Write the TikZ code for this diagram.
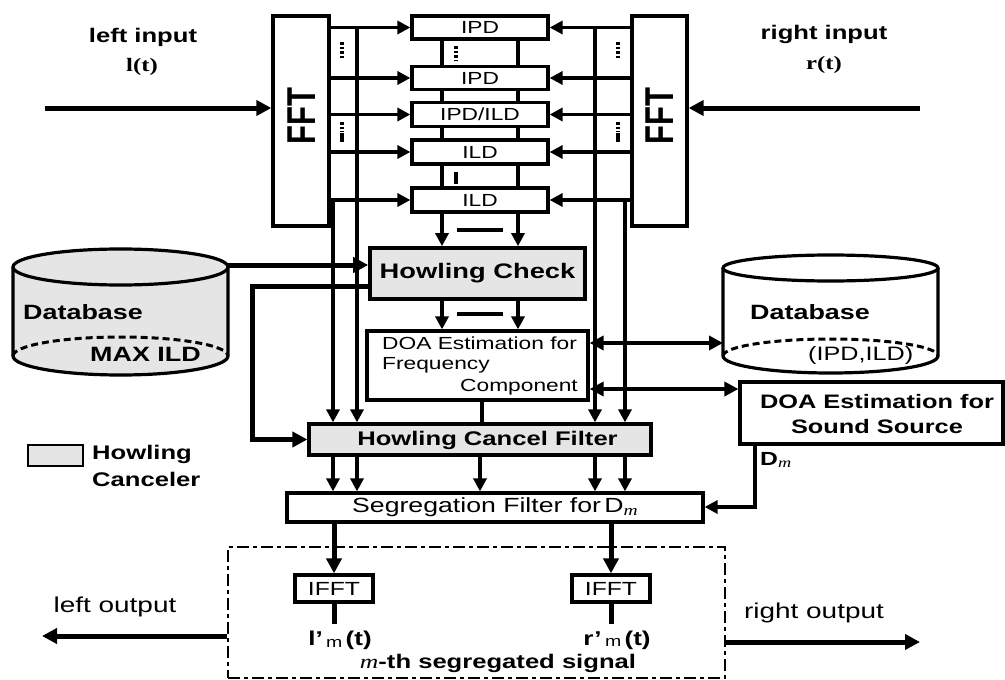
\documentclass[tikz,border=0pt]{standalone}
\usepackage{fontspec}
\setmainfont{Liberation Sans}[FakeStretch=1.3]
\newfontfamily\serifw{Liberation Serif}[FakeStretch=1.3]
\newfontfamily\plainsans{Liberation Sans}
\usetikzlibrary{arrows.meta,calc}
\newcommand\fs[1]{\fontsize{#1}{#1}\selectfont}
\begin{document}
\begin{tikzpicture}[x=1pt,y=-1pt,
  ln/.style={line width=3.2pt},
  tk/.style={line width=5pt},
  md/.style={line width=4pt},
  ar/.style={-{Triangle[length=13pt,width=13pt]}},
  bar/.style={-{Triangle[length=15pt,width=15pt]}},
  dbl/.style={{Triangle[length=14pt,width=14pt]}-{Triangle[length=14pt,width=14pt]}},
  box/.style={draw,line width=3.2pt,rectangle,inner sep=0pt},
  gbox/.style={box,fill=gray!20},
  dots/.style={line width=4pt,dash pattern=on 2.6pt off 2pt},
  dsh/.style={line width=3pt,dash pattern=on 7pt off 4pt},
  txt/.style={inner sep=0pt}]
\useasboundingbox (0,0) rectangle (1005,680);

% FFT boxes
\node[box,minimum width=56pt,minimum height=210pt] (fftL) at (301,121) {};
\node[box,minimum width=55pt,minimum height=210pt] (fftR) at (659.5,121) {};
\node[txt,rotate=90] (fftLt) at (302,116) {\scalebox{1}[1.3]{\fs{31}\plainsans\bfseries FFT}};
\node[txt,rotate=90] (fftRt) at (660,116) {\scalebox{1}[1.3]{\fs{31}\plainsans\bfseries FFT}};

% centre boxes
\node[box,minimum width=136pt,minimum height=23pt,font=\fs{17.5}] (b1) at (480,27.5) {IPD};
\node[box,minimum width=136pt,minimum height=23pt,font=\fs{17.5}] (b2) at (480,78) {IPD};
\node[box,minimum width=136pt,minimum height=24pt,font=\fs{17.5}] (b3) at (480,114.5) {IPD/ILD};
\node[box,minimum width=136pt,minimum height=24pt,font=\fs{17.5}] (b4) at (480,152) {ILD};
\node[box,minimum width=136pt,minimum height=24pt,font=\fs{17.5}] (b5) at (480,200) {ILD};

% main boxes
\node[gbox,line width=3.6pt,minimum width=215pt,minimum height=51pt,font=\fs{21}\bfseries] (hc) at (477.5,273.5) {Howling Check};
\node[box,minimum width=221pt,minimum height=69pt] (dfreq) at (477.5,365.5) {};
\node[txt,anchor=west,font=\fs{17.5}] (df1) at (382,343) {DOA Estimation for};
\node[txt,anchor=west,font=\fs{17.5}] (df2) at (382,365) {Frequency};
\node[txt,anchor=east,font=\fs{17.5}] (df3) at (578,387) {Component};
\node[gbox,minimum width=342pt,minimum height=31pt] (hcf) at (480,439.5) {};
\node[txt,font=\fs{19.7}\bfseries] (hcft) at (487.5,440) {Howling Cancel Filter};
\node[box,minimum width=416pt,minimum height=29pt,font=\fs{20.5}] (seg) at (495,507.5) {Segregation Filter for\,D\raisebox{-3pt}{\fs{15}\serifw\itshape m}};
\node[box,minimum width=263pt,minimum height=62pt] (dss) at (871.5,413) {};
\node[txt,align=center,font=\fontsize{19.5}{25}\selectfont\bfseries] (dsst) at (877,414) {DOA Estimation for\\Sound Source};

% IFFT and output box
\node[box,line width=2.8pt,dash pattern=on 12pt off 4pt on 4pt off 4pt,minimum width=497pt,minimum height=131pt] (sig) at (476.5,612.5) {};
\node[box,minimum width=78pt,minimum height=27pt,font=\fs{19}] (ifL) at (334,588.5) {IFFT};
\node[box,minimum width=78pt,minimum height=27pt,font=\fs{19}] (ifR) at (611,588.5) {IFFT};
\node[txt,font=\fs{20}\bfseries] (lbL) at (340,640) {l’\,\raisebox{-2pt}{\fs{15}\mdseries m}\,(t)};
\node[txt,font=\fs{20}\bfseries] (lbR) at (617,640) {r’\,\raisebox{-1pt}{\fs{15}\mdseries m}\,(t)};
\node[txt,font=\fs{19.7}\bfseries] (sigt) at (498,663) {{\serifw\itshape\mdseries m}-th segregated signal};

% input / output labels
\node[txt,font=\fs{19.7}\bfseries] (lin) at (143,37) {left input};
\node[txt,font=\fs{19}\serifw\bfseries] (lint) at (142,67) {l(t)};
\node[txt,font=\fs{19.7}\bfseries] (rin) at (824,34) {right input};
\node[txt,font=\fs{19}\serifw\bfseries] (rint) at (824,65) {r(t)};
\node[txt,font=\fs{21.5}] (lout) at (115,607) {left output};
\node[txt,font=\fs{21.5}] (rout) at (814,613) {right output};

% databases
\fill[gray!20] (13,267) -- (13,356) arc[start angle=180,end angle=360,x radius=107.5pt,y radius=19pt] -- (228,267) arc[start angle=0,end angle=180,x radius=107.5pt,y radius=18pt] -- cycle;
\draw[ln] (120.5,267) ellipse[x radius=107.5pt,y radius=18pt];
\draw[ln] (13,267) -- (13,356) arc[start angle=180,end angle=360,x radius=107.5pt,y radius=19pt] -- (228,267);
\draw[dsh] (13,356) arc[start angle=180,end angle=0,x radius=107.5pt,y radius=19pt];
\node[txt,anchor=west,font=\fs{20.7}\bfseries] (dbLt) at (23,312) {Database};
\node[txt,anchor=west,font=\fs{20.7}\bfseries] (dbLm) at (90,354) {MAX ILD};

\fill[white] (723,268) -- (723,356) arc[start angle=180,end angle=360,x radius=107.5pt,y radius=17pt] -- (938,268) -- cycle;
\draw[ln] (830.5,268) ellipse[x radius=107.5pt,y radius=13pt];
\draw[ln] (723,268) -- (723,356) arc[start angle=180,end angle=360,x radius=107.5pt,y radius=17pt] -- (938,268);
\draw[dsh] (723,356) arc[start angle=180,end angle=0,x radius=107.5pt,y radius=17pt];
\node[txt,anchor=west,font=\fs{20.7}\bfseries] (dbRt) at (750,312) {Database};
\node[txt,anchor=west,font=\fs{19.4}] (dbRm) at (808,355) {(IPD,ILD)};

% legend
\node[draw,line width=2pt,fill=gray!20,minimum width=55pt,minimum height=21pt] (leg) at (55.5,455.5) {};
\node[txt,anchor=west,font=\fs{19.7}\bfseries] (leg1) at (92,454) {Howling};
\node[txt,anchor=west,font=\fs{19.7}\bfseries] (leg2) at (92,479) {Canceler};

% coordinates
\coordinate (vl2) at (333,0);
\coordinate (vl1) at (357,0);
\coordinate (vr1) at (595,0);
\coordinate (vr2) at (625,0);
\coordinate (cx1) at (442,0);
\coordinate (cx2) at (518,0);
\coordinate (cx3) at (482,0);
\coordinate (cx4) at (480,0);
\coordinate (inL) at (45,108);
\coordinate (inR) at (920,108);
\coordinate (dbLr) at (228,265);
\coordinate (fb1) at (252,286);
\coordinate (dba) at (723,343);
\coordinate (dsb) at (740,389);
\coordinate (dm1) at (755,507);
\coordinate (lo) at (42,636);
\coordinate (ro) at (920,642);

% inputs
\draw[tk,bar] (inL) -- (fftL.west |- inL);
\draw[tk,bar] (inR) -- (fftR.east |- inR);

% FFT to boxes
\foreach \b in {b1,b2,b3,b4,b5} {
  \draw[ln,ar] (fftL.east |- \b.west) -- (\b.west);
  \draw[ln,ar] (fftR.west |- \b.east) -- (\b.east);
}
\foreach \a/\b in {b1/b2,b2/b3,b3/b4,b4/b5} {
  \draw[ln] (cx1 |- \a.south) -- (cx1 |- \b.north);
  \draw[ln] (cx2 |- \a.south) -- (cx2 |- \b.north);
}
% dots
\draw[dots] (456,46) -- (456,61);
\draw[md] (456,172) -- (456,184);
\draw[dots] (342,42) -- (342,60);
\draw[dots] (342,122) -- (342,132);
\draw[md] (342,133) -- (342,142);
\draw[dots] (618,42) -- (618,60);
\draw[dots] (618,122) -- (618,132);
\draw[md] (618,133) -- (618,142);

% long verticals to HCF
\draw[ln,ar] (vl1 |- b1.west) -- (vl1 |- hcf.north);
\draw[ln,ar] (vl2 |- b5.west) -- (vl2 |- hcf.north);
\draw[ln,ar] (vr1 |- b1.east) -- (vr1 |- hcf.north);
\draw[ln,ar] (vr2 |- b5.east) -- (vr2 |- hcf.north);

% ILD -> HC -> DOA freq
\draw[ln,ar] (cx1 |- b5.south) -- (cx1 |- hc.north);
\draw[ln,ar] (cx2 |- b5.south) -- (cx2 |- hc.north);
\draw[ln] (457,230) -- (503,230);
\draw[ln,ar] (cx1 |- hc.south) -- (cx1 |- dfreq.north);
\draw[ln,ar] (cx2 |- hc.south) -- (cx2 |- dfreq.north);
\draw[ln] (457,314) -- (503,314);
\draw[ln] (cx3 |- dfreq.south) -- (cx3 |- hcf.north);

% database and feedback
\draw[tk,bar] (dbLr) -- (hc.west |- dbLr);
\draw[tk,bar] (hc.west |- fb1) -- (fb1) |- (hcf.west);

% HCF -> Seg
\foreach \c in {vl2,vl1,cx4,vr1,vr2} {
  \draw[ln,ar] (\c |- hcf.south) -- (\c |- seg.north);
}

% DOA links
\draw[md,dbl] (dfreq.east |- dba) -- (dba);
\draw[md,dbl] (dfreq.east |- dsb) -- (dss.west |- dsb);
\draw[ln,ar] (dss.south -| dm1) -- (dm1) -- (seg.east |- dm1);
\node[txt,anchor=west,font=\fs{19}\bfseries] (dml) at (760,460) {D\raisebox{-2pt}{\fs{14}\serifw\itshape\mdseries m}};

% Seg -> IFFT -> outputs
\draw[tk,bar] (seg.south -| ifL) -- (ifL.north);
\draw[tk,bar] (seg.south -| ifR) -- (ifR.north);
\draw[tk] (ifL.south) -- ++(0,20);
\draw[tk] (ifR.south) -- ++(0,20);
\draw[tk,bar] (sig.west |- lo) -- (lo);
\draw[tk,bar] (sig.east |- ro) -- (ro);
\end{tikzpicture}
\end{document}
